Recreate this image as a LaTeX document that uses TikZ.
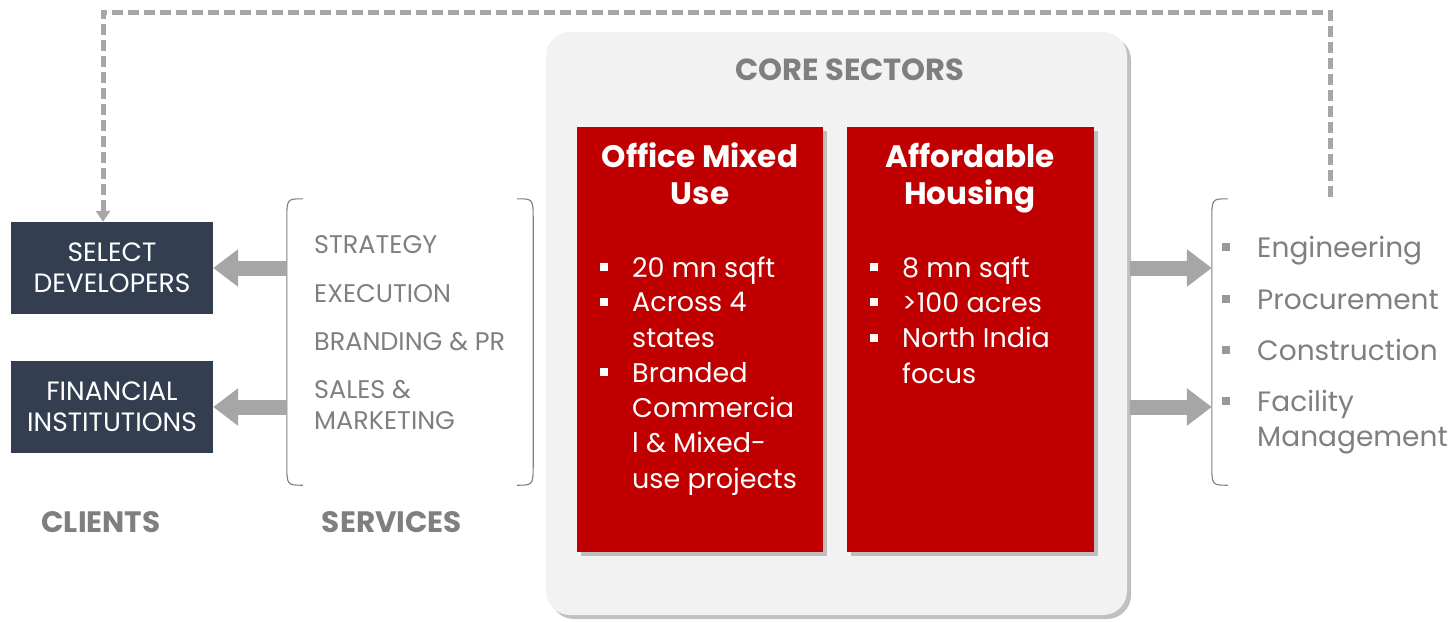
\documentclass[tikz,border=0pt]{standalone}
\usepackage{fontspec}
\setmainfont{Poppins}
\usetikzlibrary{shadows,arrows.meta,calc}
\definecolor{navy}{HTML}{333F50}
\definecolor{sectorred}{HTML}{C00000}
\definecolor{panelgray}{HTML}{F2F2F2}
\definecolor{linegray}{HTML}{A6A6A6}
\definecolor{textgray}{HTML}{7F7F7F}
\definecolor{bulletgray}{HTML}{999999}

% square bullet with hanging indent
\newcommand{\sqbul}[1]{\makebox[32pt][l]{\color{#1}\raisebox{6pt}{\rule{8pt}{8pt}}}}
\newcommand{\hang}{\hspace*{32pt}}

\begin{document}
\begin{tikzpicture}[x=1pt,y=-1pt,
  clientbox/.style={fill=navy,text=white,minimum width=202pt,minimum height=92pt,
    inner sep=0pt,align=center,font=\fontsize{26.5}{31}\selectfont},
  panel/.style={fill=panelgray,rounded corners=24pt,minimum width=581pt,minimum height=583pt,
    drop shadow={shadow xshift=4pt,shadow yshift=-4pt,fill=black!45,opacity=0.55}},
  sector/.style={fill=sectorred,minimum height=425pt,inner sep=0pt,
    drop shadow={shadow xshift=4pt,shadow yshift=-4pt,fill=black!45,opacity=0.5}},
  % multi-line nodes: the base anchor sits on the last line
  sectortitle/.style={text=white,align=center,anchor=base,inner sep=0pt,
    font=\bfseries\fontsize{31}{37}\selectfont},
  redline/.style={text=white,anchor=base west,inner sep=0pt,align=left,
    font=\fontsize{27}{35.3}\selectfont},
  greyline/.style={text=textgray,anchor=base west,inner sep=0pt,align=left,
    font=\fontsize{25.5}{31}\selectfont},
  epcline/.style={text=textgray,anchor=base west,inner sep=0pt,align=left,
    font=\fontsize{28}{35}\selectfont},
  heading/.style={text=textgray,font=\bfseries\fontsize{29.5}{34}\selectfont},
  fat/.style={draw=linegray,line width=15pt,-{Triangle[width=36pt,length=25pt]}},
  loopline/.style={draw=linegray,line width=5pt,dash pattern=on 11pt off 5pt,
    -{Triangle[width=14pt,length=11pt]}},
  bracketline/.style={draw=textgray,line width=1.1pt},
  brace/.style={inner sep=0pt}
]
\useasboundingbox (0,0) rectangle (1450,621);

% ---------- clients ----------
\node[clientbox] (dev) at (112,268) {SELECT\\DEVELOPERS};
\node[clientbox] (fin) at (112,407) {FINANCIAL\\INSTITUTIONS};
\node[heading] (clients) at (101,522) {CLIENTS};

% ---------- services ----------
\node[brace,minimum width=246pt,minimum height=286pt] (svc) at (410,342) {};
\draw[bracketline] ($(svc.north west)+(16,0)$) .. controls (svc.north west) .. ($(svc.north west)+(0,22)$)
  -- ($(svc.south west)+(0,-22)$) .. controls (svc.south west) .. ($(svc.south west)+(16,0)$);
\draw[bracketline] ($(svc.north east)+(-16,0)$) .. controls (svc.north east) .. ($(svc.north east)+(0,22)$)
  -- ($(svc.south east)+(0,-22)$) .. controls (svc.south east) .. ($(svc.south east)+(-16,0)$);
\node[greyline] (s1) at (314,253) {STRATEGY};
\node[greyline] (s2) at (314,302) {EXECUTION};
\node[greyline] (s3) at (314,350) {BRANDING \& PR};
\node[greyline] (s4) at (314,429) {SALES \&\\MARKETING};
\node[heading] (services) at (392,522) {SERVICES};

\draw[fat] (svc.west |- dev.east) -- (dev.east);
\draw[fat] (svc.west |- fin.east) -- (fin.east);

% ---------- core sectors ----------
\node[panel] (core) at (836.5,323.5) {};
\node[heading,font=\bfseries\fontsize{30.5}{36}\selectfont] (coretitle) at (850,70) {CORE SECTORS};

\node[sector,minimum width=246pt] (office) at (700,339.5) {};
\node[sector,minimum width=247pt] (housing) at (970.5,339.5) {};

\node[sectortitle] (officetitle) at (700,204) {Office Mixed\\Use};
\node[sectortitle] (housingtitle) at (970,204) {Affordable\\Housing};

\node[redline] (o1) at (600,277) {\sqbul{white}20 mn sqft};
\node[redline] (o2) at (600,347) {\sqbul{white}Across 4\\\hang states};
\node[redline] (o3) at (600,488) {\sqbul{white}Branded\\\hang Commercia\\\hang l \& Mixed-\\\hang use projects};

\node[redline] (h1) at (870,277) {\sqbul{white}8 mn sqft};
\node[redline] (h2) at (870,312) {\sqbul{white}>100 acres};
\node[redline] (h3) at (870,383) {\sqbul{white}North India\\\hang focus};

% ---------- delivery capabilities ----------
\node[brace,minimum width=254pt,minimum height=286pt] (epc) at (1339,342) {};
\draw[bracketline] ($(epc.north west)+(16,0)$) .. controls (epc.north west) .. ($(epc.north west)+(0,22)$)
  -- ($(epc.south west)+(0,-22)$) .. controls (epc.south west) .. ($(epc.south west)+(16,0)$);
\draw[bracketline] ($(epc.north east)+(-16,0)$) .. controls (epc.north east) .. ($(epc.north east)+(0,22)$)
  -- ($(epc.south east)+(0,-22)$) .. controls (epc.south east) .. ($(epc.south east)+(-16,0)$);
\node[epcline] (e1) at (1222,257) {\sqbul{bulletgray}\hspace{3pt}Engineering};
\node[epcline] (e2) at (1222,309) {\sqbul{bulletgray}\hspace{3pt}Procurement};
\node[epcline] (e3) at (1222,360) {\sqbul{bulletgray}\hspace{3pt}Construction};
\node[epcline] (e4) at (1222,446) {\sqbul{bulletgray}\hspace{3pt}Facility\\\hang\hspace{3pt}Management};

\draw[fat] (core.east |- dev.east) ++(3,0) -- (epc.west |- dev.east);
\draw[fat] (core.east |- fin.east) ++(3,0) -- (epc.west |- fin.east);

% ---------- feedback loop ----------
\coordinate (loopstart) at (1330,197);
\coordinate (loopcorner) at (103,12);
\draw[loopline] (loopstart) |- (loopcorner) -- (loopcorner |- dev.north);
\end{tikzpicture}
\end{document}
